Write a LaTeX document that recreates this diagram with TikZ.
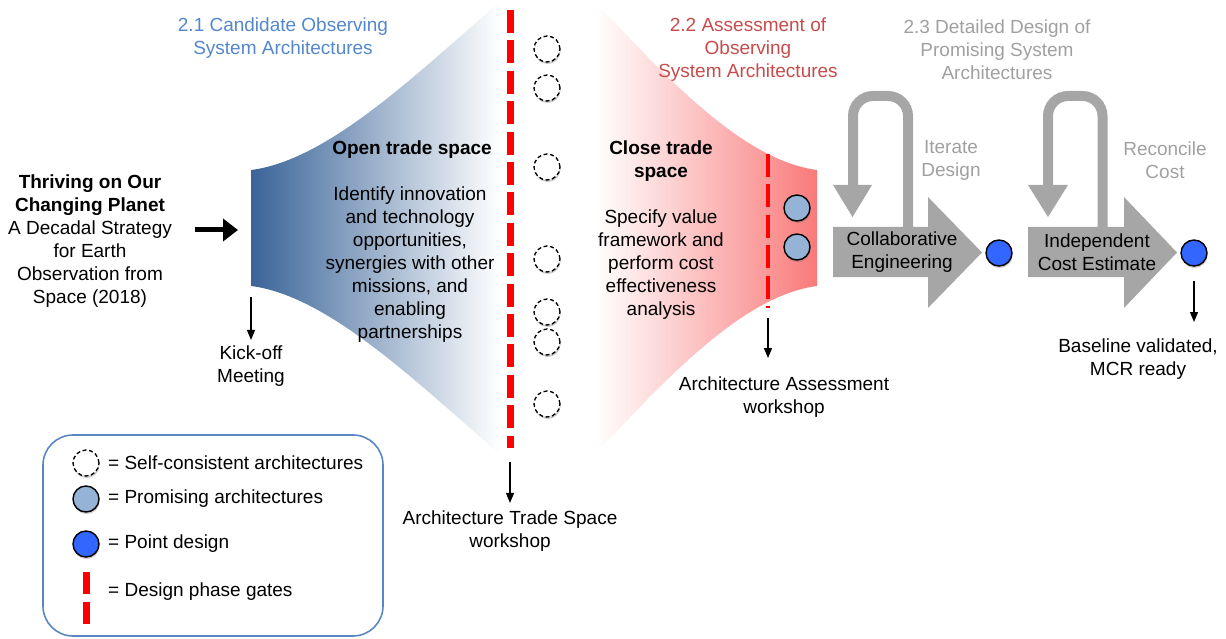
\documentclass[tikz,border=0pt]{standalone}
\usepackage{fontspec}
\setmainfont{Liberation Sans}
\usetikzlibrary{shadows,arrows.meta}
\definecolor{hdrblue}{RGB}{84,135,205}
\definecolor{hdrred}{RGB}{200,75,75}
\definecolor{greyA}{RGB}{166,166,166}
\definecolor{greyT}{RGB}{160,160,160}
\definecolor{funblue}{RGB}{58,100,152}
\definecolor{funred}{RGB}{249,122,122}
\definecolor{promfill}{RGB}{149,179,215}
\definecolor{pointfill}{RGB}{51,102,255}
\definecolor{gatered}{RGB}{255,0,0}
\definecolor{legendline}{RGB}{90,135,195}
\begin{document}
\begin{tikzpicture}[x=1pt,y=-1pt,
  font=\fontsize{19}{23}\selectfont,
  txt/.style={align=center, inner sep=0pt},
  ltxt/.style={anchor=west, inner sep=0pt},
  shad/.style={drop shadow={shadow xshift=0.6pt, shadow yshift=-2pt, opacity=0.35, fill=black!60}},
  selfc/.style={circle, draw=black, dash pattern=on 4pt off 2.6pt, fill=white, minimum size=26pt, inner sep=0pt, line width=1.3pt, shad},
  promc/.style={circle, draw=black, fill=promfill, minimum size=26pt, inner sep=0pt, line width=1.4pt, shad},
  pointc/.style={circle, draw=black, fill=pointfill, minimum size=26pt, inner sep=0pt, line width=1.4pt, shad},
  gate/.style={gatered, dash pattern=on 23pt off 7.4pt},
  thinarrow/.style={line width=1.3pt, -{Triangle[length=10pt,width=8pt]}},
  greyloop/.style={greyA, line width=10pt, rounded corners=20pt},
]
\useasboundingbox (0,0) rectangle (1226,639);

% funnels
\shade[left color=funblue, right color=white]
  (251,170) .. controls (330,160) and (420,70) .. (500,2) -- (500,454)
  .. controls (420,386) and (330,296) .. (251,286) -- cycle;
\shade[left color=white, right color=funred]
  (817,170) .. controls (740,160) and (660,70) .. (595,2) -- (595,454)
  .. controls (660,386) and (740,296) .. (817,286) -- cycle;

% gates
\draw[gate, line width=7pt] (510,10) -- (510,448);
\draw[gate, line width=4.5pt] (768,154) -- (768,308);

% headers
\node[txt, text=hdrblue] (h21) at (283,38.5) {2.1 Candidate Observing\\System Architectures};
\node[txt, text=hdrred] (h22) at (748,50) {2.2 Assessment of\\Observing\\System Architectures};
\node[txt, text=greyT] (h23) at (997,50) {2.3 Detailed Design of\\Promising System\\Architectures};

% left source text
\node[txt] (src) at (90,241) {\textbf{Thriving on Our}\\\textbf{Changing Planet}\\A Decadal Strategy\\for Earth\\Observation from\\Space (2018)};
\coordinate (bigA) at (195,230);
\coordinate (bigB) at (238,230);
\draw[line width=5pt, -{Triangle[length=15pt,width=22pt]}] (bigA) -- (bigB);

% funnel texts
\node[txt] (open) at (412,150) {\textbf{Open trade space}};
\node[txt] (openb) at (410,264.5) {Identify innovation\\and technology\\opportunities,\\synergies with other\\missions, and\\enabling\\partnerships};
\node[txt] (close) at (661,161.5) {\textbf{Close trade}\\\textbf{space}};
\node[txt] (closeb) at (661,265) {Specify value\\framework and\\perform cost\\effectiveness\\analysis};

% self-consistent circles
\foreach \y/\n in {49/a,88/b,167/c,259/d,312/e,342/f,404/g}
  \node[selfc] (sc\n) at (547,\y) {};
% promising
\node[promc] (pr1) at (797,208) {};
\node[promc] (pr2) at (797,247) {};

% loops
\draw[greyloop] (908,232) -- (908,96) -- (853,96) -- (853,190);
\fill[greyA] (833,185) -- (872,185) -- (852.5,217) -- cycle;
\draw[greyloop] (1102.5,232) -- (1102.5,96) -- (1048,96) -- (1048,190);
\fill[greyA] (1028,185) -- (1068,185) -- (1048,217) -- cycle;

% block arrows
\fill[greyA] (833,227) -- (928,227) -- (928,197) -- (982,252.5) -- (928,308) -- (928,277) -- (833,277) -- cycle;
\fill[greyA] (1028,227) -- (1124,227) -- (1124,197) -- (1177,252.5) -- (1124,308) -- (1124,277) -- (1028,277) -- cycle;
\node[txt] (ce) at (902,252) {Collaborative\\Engineering};
\node[txt] (ice) at (1097,252) {Independent\\Cost Estimate};
\node[txt, text=greyT] (iter) at (951,160.5) {Iterate\\Design};
\node[txt, text=greyT] (rec) at (1165,160.5) {Reconcile\\Cost};

\node[pointc] (pd1) at (999,253) {};
\node[pointc] (pd2) at (1194,253) {};

% milestone labels
\node[txt] (kick) at (251,366.5) {Kick-off\\Meeting};
\coordinate (kickA) at (251,297);
\draw[thinarrow, shorten >=6pt] (kickA) -- (kick.north);
\node[txt] (ats) at (510,531.5) {Architecture Trade Space\\workshop};
\coordinate (atsA) at (510,462);
\draw[thinarrow, shorten >=8pt] (atsA) -- (ats.north);
\node[txt] (aas) at (784,397.5) {Architecture Assessment\\workshop};
\coordinate (aasA) at (768,318);
\coordinate (aasB) at (768,358);
\draw[thinarrow] (aasA) -- (aasB);
\node[txt] (base) at (1138,359) {Baseline validated,\\MCR ready};
\coordinate (baseA) at (1194,281);
\coordinate (baseB) at (1194,322);
\draw[thinarrow] (baseA) -- (baseB);

% legend
\draw[legendline, line width=1.6pt, rounded corners=30pt] (43,435) rectangle (383,636);
\node[selfc] (lg1) at (86,463) {};
\node[promc] (lg2) at (86,499) {};
\node[pointc] (lg3) at (86,544) {};
\coordinate (lg4a) at (86,572);
\coordinate (lg4b) at (86,624);
\draw[gatered, line width=7pt, dash pattern=on 22pt off 8pt] (lg4a) -- (lg4b);
\node[ltxt] (t1) at (108,463) {= Self-consistent architectures};
\node[ltxt] (t2) at (108,499) {= Promising architectures};
\node[ltxt] (t3) at (108,544) {= Point design};
\node[ltxt] (t4) at (108,592) {= Design phase gates};
\end{tikzpicture}
\end{document}
